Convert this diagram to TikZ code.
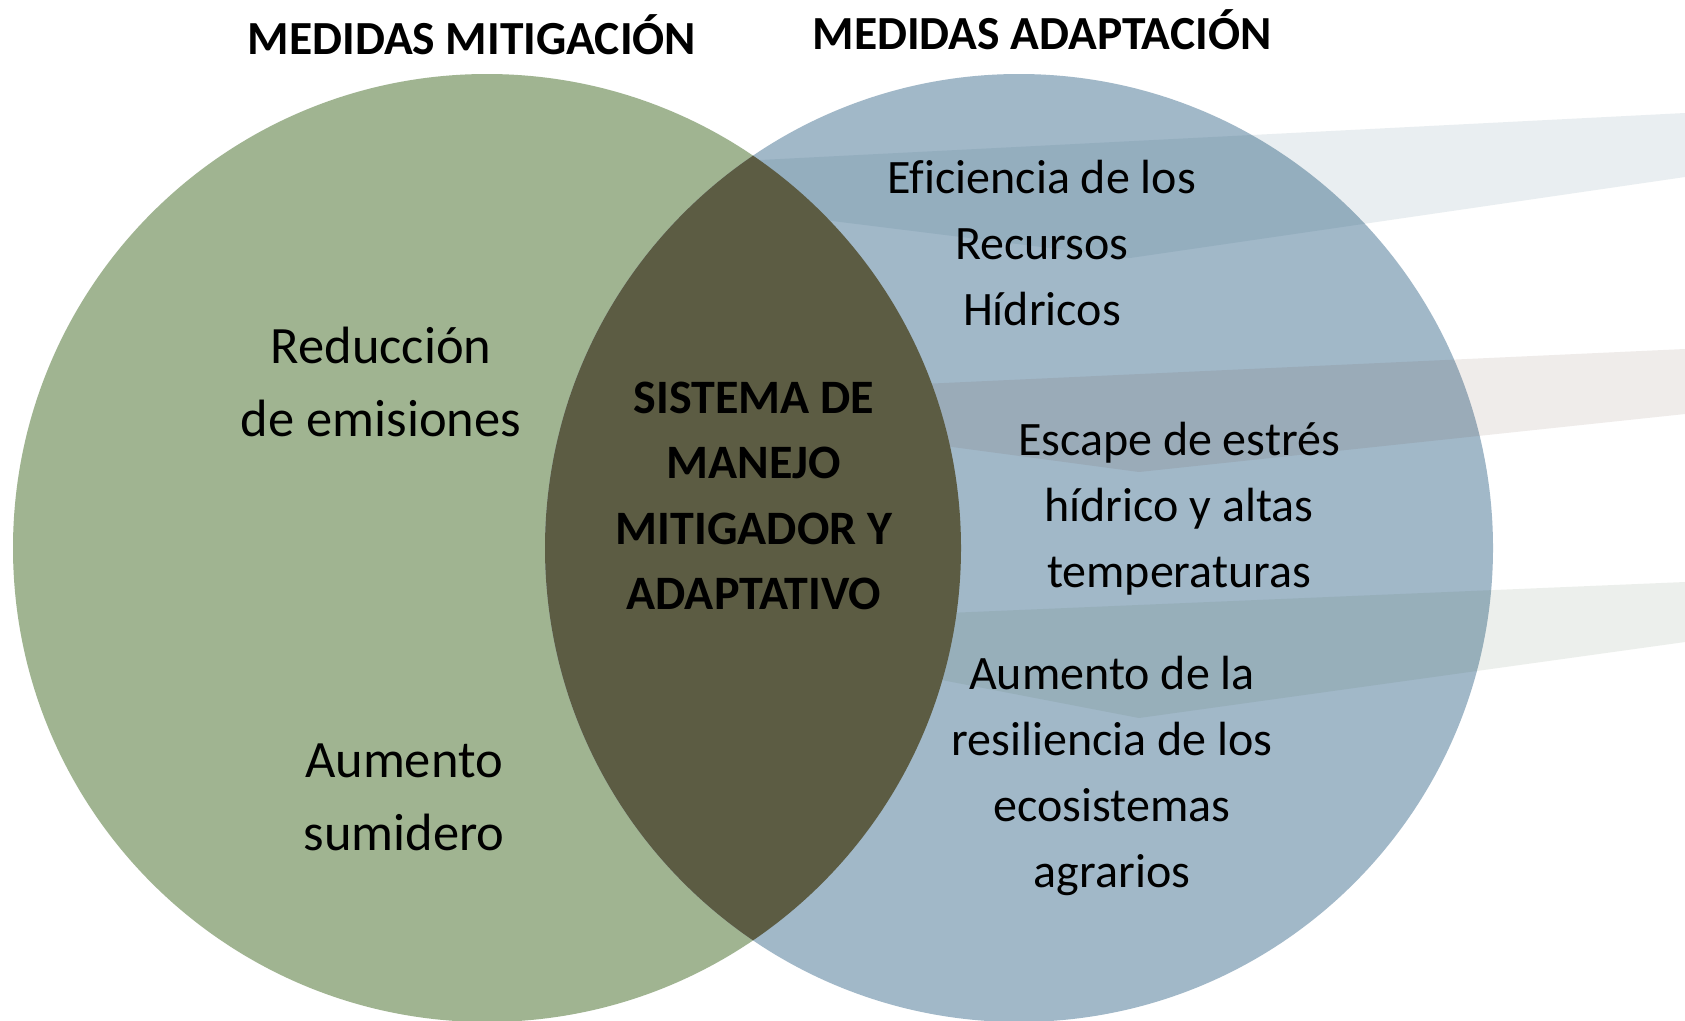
\documentclass[tikz,border=0pt]{standalone}
\usepackage{fontspec}
\setmainfont{Carlito}[Ligatures=NoCommon]
\definecolor{mitgreen}{RGB}{160,180,145}
\definecolor{adapblue}{RGB}{161,184,200}
\definecolor{overlapc}{RGB}{92,92,67}
\definecolor{bandone}{RGB}{20,75,100}
\definecolor{bandtwo}{RGB}{85,45,30}
\definecolor{bandthree}{RGB}{55,85,50}
\begin{document}
\begin{tikzpicture}[x=1pt,y=-1pt,
  lbl/.style={align=center,text=black,inner sep=0pt},
  titlefont/.style={font=\fontsize{47.5}{57}\selectfont\bfseries},
  leftfont/.style={font=\fontsize{52.5}{73}\selectfont},
  rightfont/.style={font=\fontsize{48}{66}\selectfont},
  centrefont/.style={font=\fontsize{48}{65.5}\selectfont\bfseries},
  bandshape/.style={opacity=0.09}]
\useasboundingbox (0,0) rectangle (1685,1020);
\clip (0,0) rectangle (1685,1020);
\fill[white] (0,0) rectangle (1685,1020);
\coordinate (cl) at (487,548);
\coordinate (cr) at (1019,548);
% circles
\fill[mitgreen] (cl) circle[radius=474pt];
\fill[adapblue] (cr) circle[radius=474pt];
% background bands
\fill[bandone,bandshape] (1685,113) -- (760,160) -- (760,212) -- (1130,258) -- (1685,177) -- cycle;
\fill[bandtwo,bandshape] (1685,349) -- (900,385) -- (900,440) -- (1139,472) -- (1685,414) -- cycle;
\fill[bandthree,bandshape] (1685,582) -- (900,615) -- (900,672) -- (1139,718) -- (1685,642) -- cycle;
% overlap
\begin{scope}
  \clip (cl) circle[radius=474pt];
  \fill[overlapc] (cr) circle[radius=474pt];
\end{scope}
% titles
\node[lbl,titlefont] (tmit) at (472,35) {MEDIDAS MITIGACIÓN};
\node[lbl,titlefont] (tadap) at (1042,30) {MEDIDAS ADAPTACIÓN};
% left texts
\node[lbl,leftfont] (reduc) at (381,382) {Reducción\\de emisiones};
\node[lbl,leftfont] (sumid) at (404,797) {Aumento\\sumidero};
% centre
\node[lbl,centrefont] (centre) at (754,496) {SISTEMA DE\\MANEJO\\MITIGADOR Y\\ADAPTATIVO};
% right texts
\node[lbl,rightfont] (efic) at (1042,243) {Eficiencia de los\\Recursos\\Hídricos};
\node[lbl,rightfont] (escape) at (1179,509) {Escape de estrés\\hídrico y altas\\temperaturas};
\node[lbl,rightfont] (resil) at (1112,776) {Aumento de la\\resiliencia de los\\ecosistemas\\agrarios};
\end{tikzpicture}
\end{document}
